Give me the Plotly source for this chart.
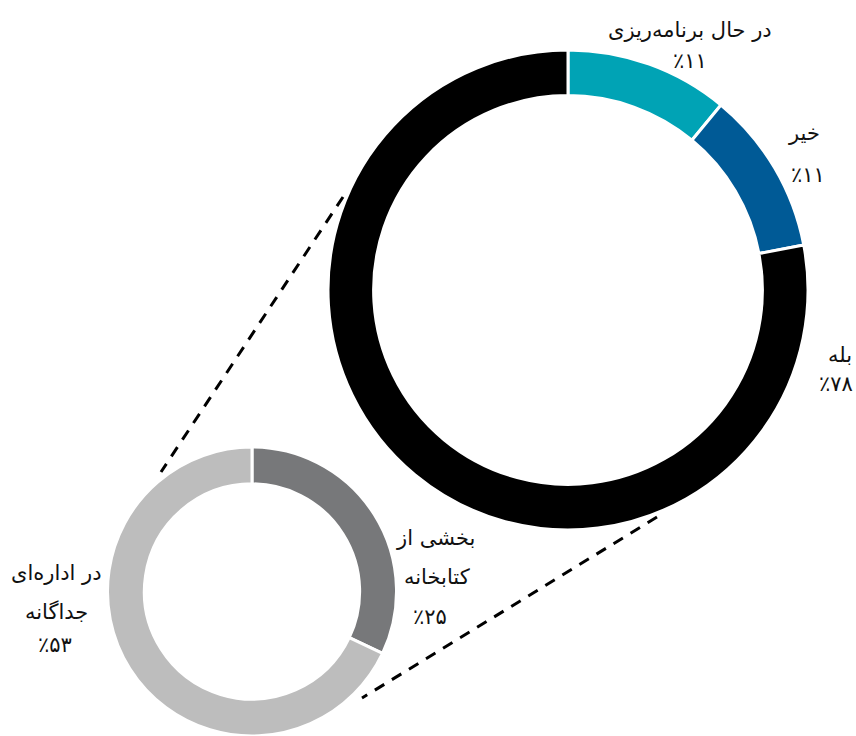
import plotly.graph_objects as go

W, H = 856, 736

# Main donut data
main_labels = ["در حال برنامه‌ریزی", "خیر", "بله"]
main_values = [11, 11, 78]
main_pct = ["٪۱۱", "٪۱۱", "٪۷۸"]
main_colors = ["#00A3B5", "#005A96", "#000000"]

# Breakdown donut data (of the "بله" share)
sub_labels = ["بخشی از کتابخانه", "در اداره‌ای جداگانه"]
sub_lines = [["بخشی از", "کتابخانه"], ["در اداره‌ای", "جداگانه"]]
sub_values = [25, 53]
sub_pct = ["٪۲۵", "٪۵۳"]
sub_colors = ["#77787A", "#BDBDBD"]

def px(x):
    return x / W

def py(y):
    return 1 - y / H

fig = go.Figure()
fig.add_trace(go.Pie(
    labels=main_labels, values=main_values, hole=0.81, sort=False,
    direction="clockwise", rotation=0, textinfo="none", hoverinfo="label+value",
    marker=dict(colors=main_colors, line=dict(color="white", width=3)),
    domain=dict(x=[px(328), px(808)], y=[py(530), py(50)]),
    showlegend=False,
))
fig.add_trace(go.Pie(
    labels=sub_labels, values=sub_values, hole=0.745, sort=False,
    direction="clockwise", rotation=0, textinfo="none", hoverinfo="label+value",
    marker=dict(colors=sub_colors, line=dict(color="white", width=3)),
    domain=dict(x=[px(107), px(397)], y=[0, py(447)]),
    showlegend=False,
))

font = dict(family="DejaVu Sans, sans-serif", size=21, color="#111111")

def ann(text, x, y):
    fig.add_annotation(text=text, x=px(x), y=py(y), xref="paper", yref="paper",
                       showarrow=False, xanchor="center", yanchor="middle", font=font)

# main labels (text lines, then percent)
ann(main_labels[0], 690, 30); ann(main_pct[0], 690, 61)
ann(main_labels[1], 804, 133); ann(main_pct[1], 808, 175)
ann(main_labels[2], 840, 355); ann(main_pct[2], 836, 384)

# sub labels
ann(sub_lines[0][0], 435, 538)
ann(sub_lines[0][1], 437, 577)
ann(sub_pct[0], 430, 617)
ann(sub_lines[1][0], 57, 573)
ann(sub_lines[1][1], 57, 612)
ann(sub_pct[1], 55, 645)

dash = dict(color="black", width=3, dash="11px,9px")
fig.add_shape(type="line", xref="paper", yref="paper",
              x0=px(343), y0=py(197), x1=px(161), y1=py(472), line=dash)
fig.add_shape(type="line", xref="paper", yref="paper",
              x0=px(657), y0=py(517), x1=px(362), y1=py(698), line=dash)

fig.update_layout(width=W, height=H, margin=dict(l=0, r=0, t=0, b=0),
                  paper_bgcolor="white", plot_bgcolor="white")
fig.write_html("out.html", config={"displayModeBar": False},
               post_script="document.body.style.margin='0';document.body.style.overflow='hidden';")
